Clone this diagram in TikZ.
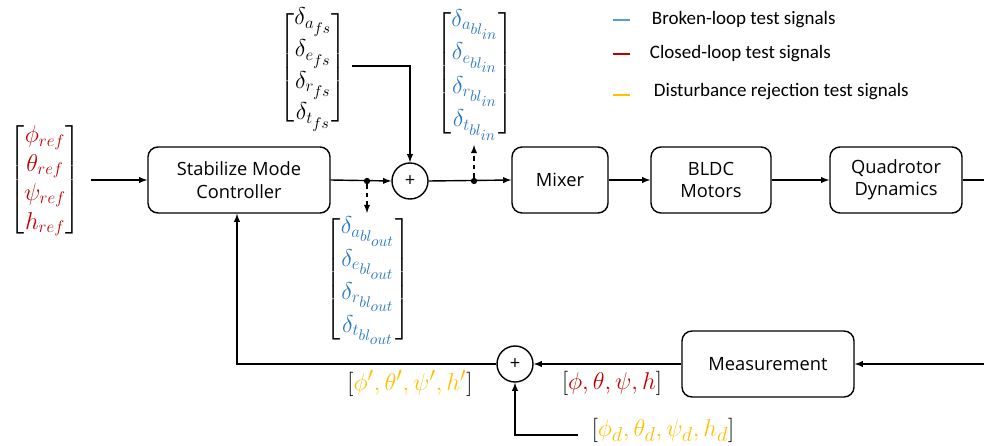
\documentclass[tikz,border=0pt]{standalone}
\usepackage{amssymb,amsfonts,amsmath}
\usepackage{fontspec}
\setmainfont{Open Sans}
\newfontfamily\legendfont{Carlito}
\usetikzlibrary{arrows}

\definecolor{clred}{RGB}{192,0,0}
\definecolor{blblue}{RGB}{40,120,200}
\definecolor{dryellow}{RGB}{255,192,0}
\definecolor{legblue}{RGB}{91,155,213}

\DeclareMathSizes{16}{16}{12.5}{10.5}
\DeclareMathSizes{19}{19}{14}{11}
\delimiterfactor=800
\delimitershortfall=14pt
\newcommand{\sigvec}[1]{\fontsize{16}{20.5}\selectfont$\left[\begin{matrix}#1\end{matrix}\right]$}
\newcommand{\siglist}[1]{\fontsize{19}{22}\selectfont$#1$}

\tikzset{
    block/.style={draw, rounded corners=0.25cm, line width=1pt, minimum height=1.65cm,
        align=center, font=\fontsize{13}{16}\selectfont},
    sumnode/.style={draw, circle, line width=1pt, minimum size=0.9cm, inner sep=0pt,
        font=\fontsize{13}{16}\selectfont},
    dot/.style={circle, fill, inner sep=0pt, minimum size=4.5pt},
    vecnode/.style={inner sep=1pt},
    sig/.style={line width=1pt, -latex},
    legendline/.style={line width=1.3pt},
    legendtext/.style={anchor=west, font=\legendfont\fontsize{13.5}{16}\selectfont}
}

\begin{document}
\begin{tikzpicture}[x=0.025cm, y=-0.025cm]
        \useasboundingbox (0,0) rectangle (984,446);

        % forward path
        \node[vecnode] (ref) at (45,180) {\sigvec{\color{clred}\phi_{ref}\\ \color{clred}\theta_{ref}\\ \color{clred}\psi_{ref}\\ \color{clred}h_{ref}}};
        \node[block, minimum width=4.55cm] (ctrl) at (239,180) {Stabilize Mode\\Controller};
        \node[dot] (tapout) at (367,181) {};
        \node[sumnode] (sum1) at (410,181) {+};
        \node[dot] (tapin) at (474,181) {};
        \node[block, minimum width=2.4cm] (mixer) at (560,180) {Mixer};
        \node[block, minimum width=3.0cm] (bldc) at (711,180) {BLDC\\Motors};
        \node[block, minimum width=3.3cm] (quad) at (896,180) {Quadrotor\\Dynamics};

        % injected signals
        \node[vecnode] (fs) at (313,68) {\sigvec{\delta_{a_{fs}}\\ \delta_{e_{fs}}\\ \delta_{r_{fs}}\\ \delta_{t_{fs}}}};
        \node[vecnode] (blin) at (475,73) {\sigvec{\color{blblue}\delta_{a_{bl_{in}}}\\ \color{blblue}\delta_{e_{bl_{in}}}\\ \color{blblue}\delta_{r_{bl_{in}}}\\ \color{blblue}\delta_{t_{bl_{in}}}}};
        \node[vecnode] (blout) at (368,279) {\sigvec{\color{blblue}\delta_{a_{bl_{out}}}\\ \color{blblue}\delta_{e_{bl_{out}}}\\ \color{blblue}\delta_{r_{bl_{out}}}\\ \color{blblue}\delta_{t_{bl_{out}}}}};

        % feedback path
        \node[block, minimum width=4.3cm] (meas) at (768,364) {Measurement};
        \node[sumnode] (sum2) at (515,364) {+};
        \coordinate (dist) at (578,435);
        \node (distlbl) at (663,430) {\siglist{[\color{dryellow}\phi_d,\theta_d,\psi_d,h_d\color{black}]}};
        \node (measlbl) at (612,383) {\siglist{[\color{clred}\phi,\theta,\psi,h\color{black}]}};
        \node (fblbl) at (410,383) {\siglist{[\color{dryellow}\phi',\theta',\psi',h'\color{black}]}};

        \draw[sig] (ref.east) ++(8,0) -- (ctrl.west);
        \draw[sig] (ctrl.east) -- (sum1.west);
        \draw[sig] (sum1.east) -- (mixer.west);
        \draw[sig] (mixer) -- (bldc);
        \draw[sig] (bldc) -- (quad);
        \draw[sig] (fs.east |- 0,66) ++(4,0) -| (sum1.north);
        \draw[sig, dashed] (tapout) -- (367,213);
        \draw[sig, dashed] (tapin) -- (474,145);
        \draw[sig] (quad.east) -- (1000,180) -- (1000,364) -- (meas.east);
        \draw[sig] (meas.west) -- (sum2.east);
        \draw[sig] (dist) -| (sum2.south);
        \draw[sig] (sum2.west) -| (237,0 |- ctrl.south);

        % legend
        \draw[legendline, legblue] (613,20) -- (630,20);
        \node[legendtext] (leg1) at (647,20) {Broken-loop test signals};
        \draw[legendline, clred] (613,54) -- (630,54);
        \node[legendtext] (leg2) at (645,54) {Closed-loop test signals};
        \draw[legendline, dryellow] (613,95) -- (630,95);
        \node[legendtext] (leg3) at (649,92) {Disturbance rejection test signals};
    \end{tikzpicture}
\end{document}
